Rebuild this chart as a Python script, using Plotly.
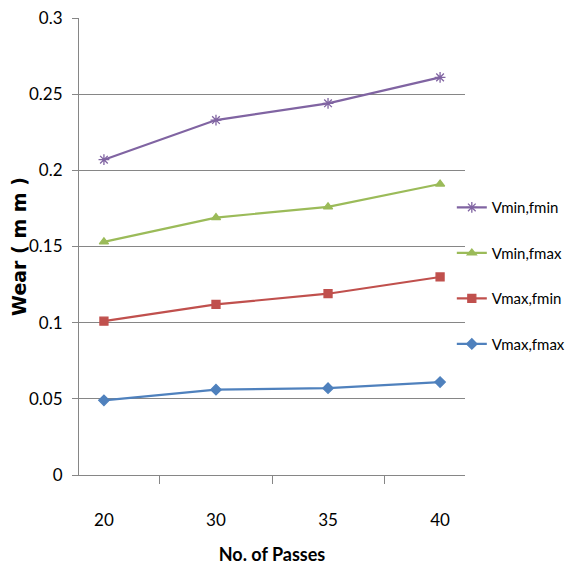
import plotly.graph_objects as go

passes = ["20", "30", "35", "40"]
vmin_fmin = [0.207, 0.233, 0.244, 0.261]
vmin_fmax = [0.153, 0.169, 0.176, 0.191]
vmax_fmin = [0.101, 0.112, 0.119, 0.130]
vmax_fmax = [0.049, 0.056, 0.057, 0.061]
y_ticks = [0, 0.05, 0.1, 0.15, 0.2, 0.25, 0.3]
y_tick_text = ["0", "0.05", "0.1", "0.15", "0.2", "0.25", "0.3"]

FONT = "Lato, Liberation Sans Narrow, sans-serif"

series = [
    ("Vmin,fmin", vmin_fmin, "#8064A2", "asterisk-open", 9),
    ("Vmin,fmax", vmin_fmax, "#9BBB59", "triangle-up", 8),
    ("Vmax,fmin", vmax_fmin, "#C0504D", "square", 8),
    ("Vmax,fmax", vmax_fmax, "#4F81BD", "diamond", 8),
]

fig = go.Figure()
for i, (name, vals, color, sym, size) in enumerate(series):
    fig.add_trace(go.Scatter(
        x=passes, y=vals, name=name, mode="lines+markers",
        line=dict(color=color, width=2.2),
        marker=dict(symbol=sym, size=size, color=color,
                    line=dict(color=color, width=1.3)),
        legendgroup=f"g{i}",
    ))

# page body has an 8px margin, so the figure is 569x569
fig.update_layout(
    width=569, height=569,
    margin=dict(l=71, r=112, t=10, b=102, autoexpand=False),
    paper_bgcolor="white", plot_bgcolor="white",
    font=dict(family=FONT, size=16, color="#000000"),
    legend=dict(xref="container", yref="container",
                x=0.78, y=0.678, xanchor="left", yanchor="top",
                bgcolor="rgba(0,0,0,0)",
                traceorder="grouped", tracegroupgap=23,
                itemwidth=30, font=dict(size=15, family=FONT)),
    showlegend=True,
)
fig.update_xaxes(
    type="category", tickson="boundaries", ticks="outside", ticklen=8,
    tickcolor="#868686", showline=True, linecolor="#868686", linewidth=1,
    showgrid=False, tickfont=dict(size=17, family=FONT),
    ticklabelstandoff=30, automargin=False,
    title=dict(text="<b>No. of Passes</b>", font=dict(size=18, family=FONT), standoff=18),
)
fig.update_yaxes(
    range=[0, 0.3], tickvals=y_ticks, ticktext=y_tick_text,
    ticks="outside", ticklen=6, tickcolor="#868686",
    showline=True, linecolor="#868686", linewidth=1,
    showgrid=True, gridcolor="#868686", gridwidth=1,
    zeroline=False, tickfont=dict(size=17, family=FONT),
    ticklabelstandoff=6, automargin=False, ticklabeloverflow="allow",
    title=dict(text="<b>Wear ( m m )</b>", font=dict(size=19, family="DejaVu Sans, sans-serif"), standoff=8),
)

fig.write_html("out.html")
